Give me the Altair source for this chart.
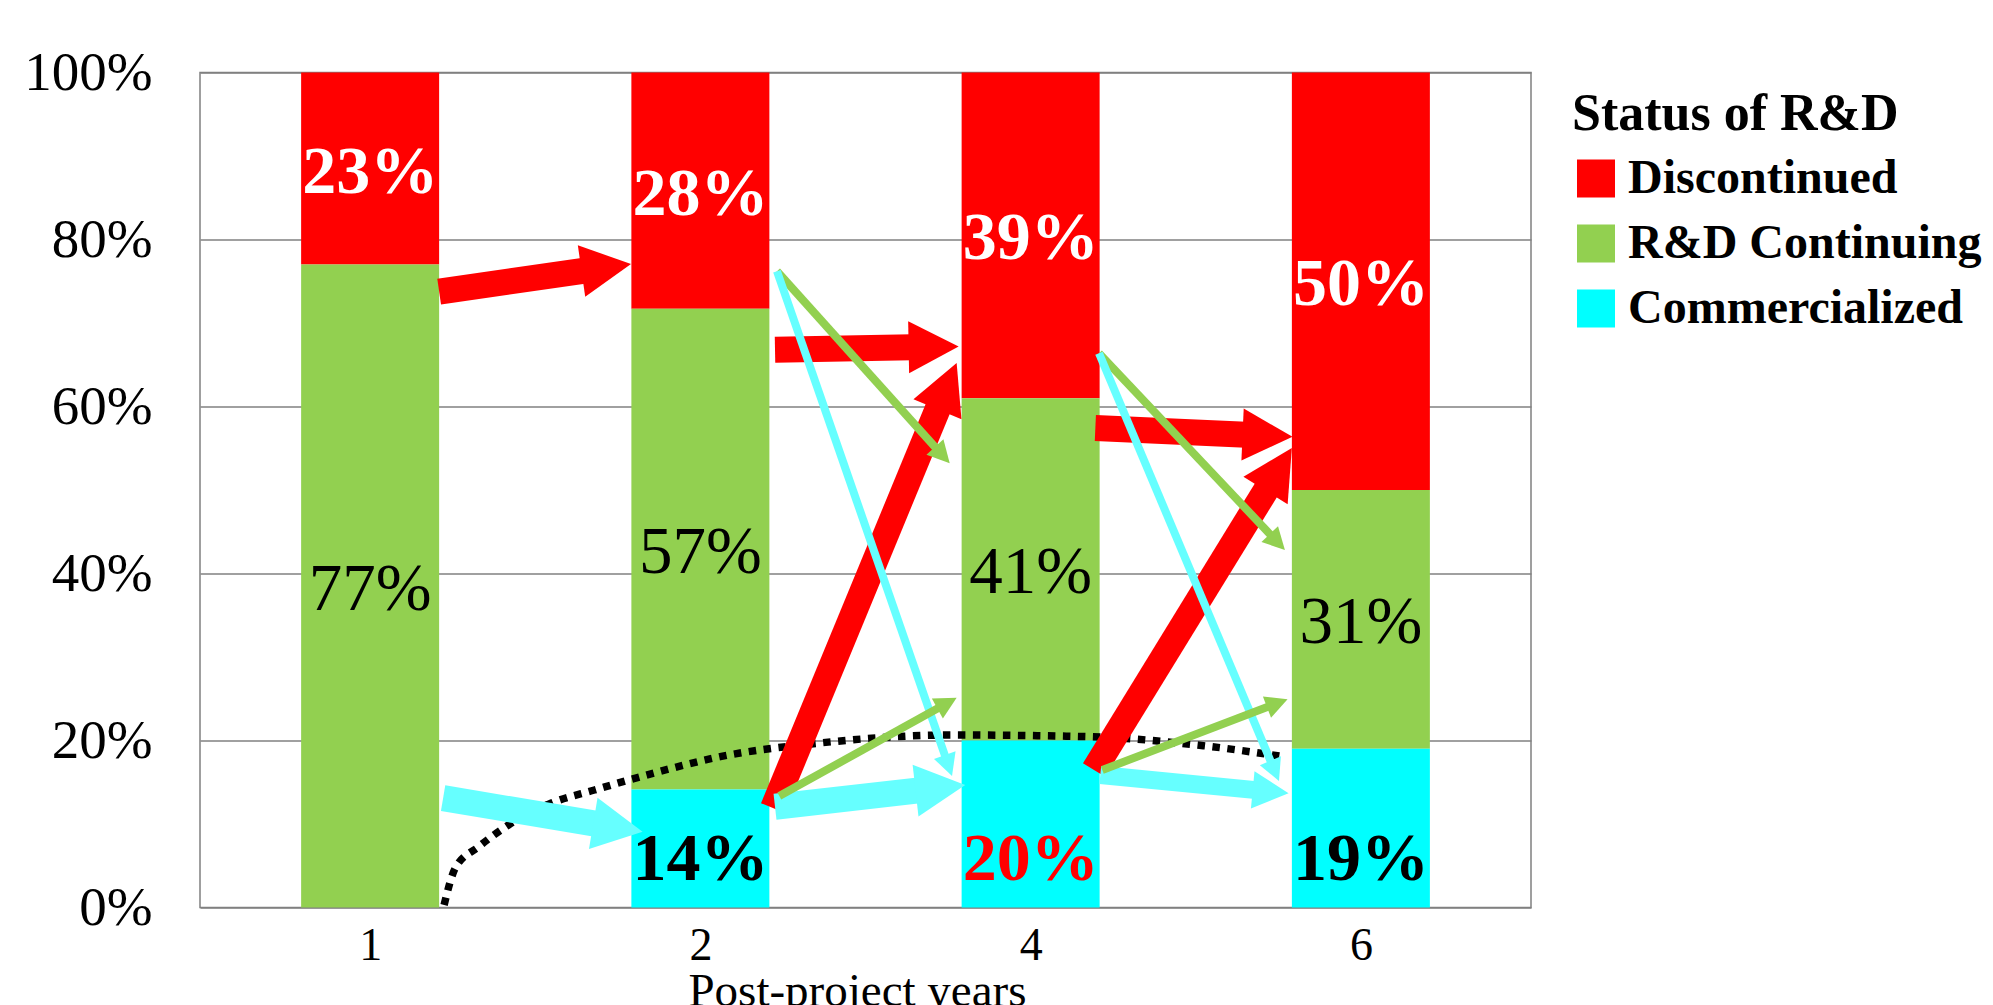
import math
import altair as alt
import pandas as pd

FONT = "Liberation Serif"

# ---- chart values ----
years = ["1", "2", "4", "6"]
statuses = ["Discontinued", "R&D Continuing", "Commercialized"]
discontinued = [23, 28, 39, 50]
continuing = [77, 57, 41, 31]
commercialized = [0, 14, 20, 19]

status_colors = ["#FF0000", "#92D050", "#00FFFF"]
arrow_colors = ["#FF0000", "#92D050", "#66FFFF"]

# ---- transition arrows (x in bar-index units, y as share of 100%) ----
arrow_to = ["Discontinued", "Commercialized", "Discontinued", "Discontinued", "Commercialized",
            "R&D Continuing", "Commercialized", "R&D Continuing",
            "Discontinued", "Discontinued", "Commercialized",
            "R&D Continuing", "Commercialized", "R&D Continuing"]
arrow_kind = ["thick", "thick", "thick", "thick", "thick",
              "thin", "thin", "thin",
              "thick", "thick", "medium",
              "thin", "thin", "thin"]
arrow_x0 = [0.209, 0.221, 1.226, 1.220, 1.226, 1.232, 1.232, 1.239, 2.196, 2.192, 2.211, 2.207, 2.207, 2.217]
arrow_y0 = [0.7375, 0.131, 0.668, 0.119, 0.1207, 0.762, 0.762, 0.1335, 0.5743, 0.1647, 0.1587, 0.6637, 0.6637, 0.1647]
arrow_x1 = [0.790, 0.825, 1.782, 1.776, 1.802, 1.755, 1.762, 1.776, 2.793, 2.791, 2.781, 2.770, 2.752, 2.778]
arrow_y1 = [0.7707, 0.0908, 0.672, 0.652, 0.1467, 0.532, 0.1576, 0.2511, 0.5638, 0.5503, 0.1368, 0.4281, 0.1515, 0.2493]

# ---- dotted trend curve ----
curve_x = [0.224, 0.258, 0.329, 0.419, 0.549, 0.679, 0.859, 1.060, 1.361, 1.761, 2.172, 2.523, 2.767]
curve_y = [0.003, 0.0473, 0.0728, 0.0988, 0.1251, 0.1407, 0.161, 0.1806, 0.197, 0.2066, 0.2046, 0.1938, 0.1806]

W, H = 1331, 835
X_DOMAIN = [-0.5, 3.5]
PX_X = W / (X_DOMAIN[1] - X_DOMAIN[0])
PX_Y = H

rows = []
for i, yr in enumerate(years):
    for s, vals in zip(statuses, [discontinued, continuing, commercialized]):
        rows.append({"idx": i, "year": yr, "status": s, "value": vals[i],
                     "order": len(statuses) - 1 - statuses.index(s)})
bars_df = pd.DataFrame(rows)

x_scale = alt.Scale(domain=X_DOMAIN, nice=False, zero=False)
y_scale = alt.Scale(domain=[0, 1], nice=False, zero=True)
label_expr = "[" + ",".join(f"'{y}'" for y in years) + "][datum.value]"

x_axis = alt.Axis(values=list(range(len(years))), labelExpr=label_expr, title="Post-project years",
                  grid=False, ticks=False, domain=False, labelFont=FONT, labelFontSize=46,
                  labelColor="black", labelPadding=16, labelFlush=False,
                  titleFont=FONT, titleFontSize=47, titleFontWeight="normal", titleColor="black",
                  titleBaseline="top", titleY=61, titleX=657)
y_axis = alt.Axis(values=[0, 0.2, 0.4, 0.6, 0.8, 1.0], format=".0%", title=None, grid=True,
                  gridColor="#808080", gridWidth=1.5, ticks=False, domain=False,
                  labelFont=FONT, labelFontSize=55, labelColor="black", labelPadding=48)

stacked = alt.Chart(bars_df).transform_stack(
    stack="value", groupby=["idx"], as_=["y0", "y1"], offset="normalize",
    sort=[alt.SortField("order", order="ascending")]
).transform_calculate(mid="(datum.y0 + datum.y1) / 2", label="datum.value + '%'")

legend = alt.Legend(title="Status of R&D", orient="none", legendX=1372, legendY=16,
                    titleFont=FONT, titleFontSize=52, titleFontWeight="bold", titleColor="black",
                    labelFont=FONT, labelFontSize=48, labelFontWeight="bold", labelColor="black",
                    symbolType="square", symbolSize=1444, symbolStrokeWidth=0, symbolOpacity=1,
                    labelOffset=8, symbolOffset=0, rowPadding=17, titlePadding=14,
                    labelLimit=600, titleLimit=600, padding=0)

bars = stacked.mark_bar(size=138).encode(
    x=alt.X("idx:Q", scale=x_scale, axis=x_axis),
    y=alt.Y("y0:Q", scale=y_scale, axis=y_axis),
    y2="y1:Q",
    color=alt.Color("status:N", scale=alt.Scale(domain=statuses, range=status_colors), legend=legend),
)

text_disc = stacked.transform_filter(alt.datum.status == "Discontinued").mark_text(
    font=FONT, fontSize=68, fontWeight="bold", color="white", baseline="middle", align="center", dy=4
).encode(x=alt.X("idx:Q", scale=x_scale), y=alt.Y("mid:Q", scale=y_scale), text="label:N")

text_cont = stacked.transform_filter(alt.datum.status == "R&D Continuing").mark_text(
    font=FONT, fontSize=67, fontWeight="normal", color="black", baseline="middle", align="center", dy=4
).encode(x=alt.X("idx:Q", scale=x_scale), y=alt.Y("mid:Q", scale=y_scale), text="label:N")

text_comm = stacked.transform_filter(
    (alt.datum.status == "Commercialized") & (alt.datum.value > 0)
).mark_text(
    font=FONT, fontSize=68, fontWeight="bold", baseline="middle", align="center", dy=-48
).encode(
    x=alt.X("idx:Q", scale=x_scale), y=alt.Y("y0:Q", scale=y_scale), text="label:N",
    color=alt.condition("datum.year == '4'", alt.value("#FF0000"), alt.value("black")),
)

curve_df = pd.DataFrame({"i": list(range(len(curve_x))), "x": curve_x, "y": curve_y})
curve = alt.Chart(curve_df).mark_line(
    color="black", strokeWidth=7.5, strokeDash=[7.5, 7.5], strokeCap="butt", interpolate="monotone"
).encode(x=alt.X("x:Q", scale=x_scale), y=alt.Y("y:Q", scale=y_scale), order="i:Q")

head_len = {"thick": 50, "medium": 36, "thin": 22}
shaft_w = {"thick": 26, "medium": 18, "thin": 8}
HEAD = "M0,0 L-1,-0.52 L-1,0.52 Z"

shaft_rows, head_rows = [], []
for k in range(len(arrow_to)):
    kind = arrow_kind[k]
    x0, y0, x1, y1 = arrow_x0[k], arrow_y0[k], arrow_x1[k], arrow_y1[k]
    dxp = (x1 - x0) * PX_X
    dyp = -(y1 - y0) * PX_Y
    L = math.hypot(dxp, dyp)
    ux, uy = dxp / L, dyp / L
    back = head_len[kind] - 3
    bx = x1 - ux * back / PX_X
    by = y1 + uy * back / PX_Y
    shaft_rows.append({"id": k, "pt": 0, "x": x0, "y": y0, "to": arrow_to[k], "kind": kind})
    shaft_rows.append({"id": k, "pt": 1, "x": bx, "y": by, "to": arrow_to[k], "kind": kind})
    ang = math.degrees(math.atan2(dyp, dxp)) % 360
    head_rows.append({"id": k, "x": x1, "y": y1, "angle": ang, "to": arrow_to[k], "kind": kind})
shaft_df = pd.DataFrame(shaft_rows)
head_df = pd.DataFrame(head_rows)

arrow_color = alt.Color("to:N", scale=alt.Scale(domain=statuses, range=arrow_colors), legend=None)
arrow_layers = []
for kind in ["thick", "medium", "thin"]:
    sdf = shaft_df[shaft_df["kind"] == kind]
    hdf = head_df[head_df["kind"] == kind]
    arrow_layers.append(alt.Chart(sdf).mark_line(strokeWidth=shaft_w[kind], strokeCap="butt").encode(
        x=alt.X("x:Q", scale=x_scale), y=alt.Y("y:Q", scale=y_scale),
        detail="id:N", order="pt:Q", color=arrow_color))
    arrow_layers.append(alt.Chart(hdf).mark_point(
        shape=HEAD, size=(2 * head_len[kind]) ** 2, filled=True, opacity=1, strokeWidth=0
    ).encode(
        x=alt.X("x:Q", scale=x_scale), y=alt.Y("y:Q", scale=y_scale),
        angle=alt.Angle("angle:Q", scale=None), color=arrow_color))
arrows = alt.layer(*arrow_layers)

chart = alt.layer(bars, text_disc, text_cont, text_comm, curve, arrows).resolve_scale(
    color="independent"
).properties(
    width=W, height=H,
    autosize=alt.AutoSizeParams(type="none"),
    padding={"left": 200, "top": 72.5, "right": 462, "bottom": 97.5},
    background="white",
).configure_view(stroke="#808080", strokeWidth=1.5)

chart.save("out.html", embed_options={"renderer": "svg", "actions": False})
